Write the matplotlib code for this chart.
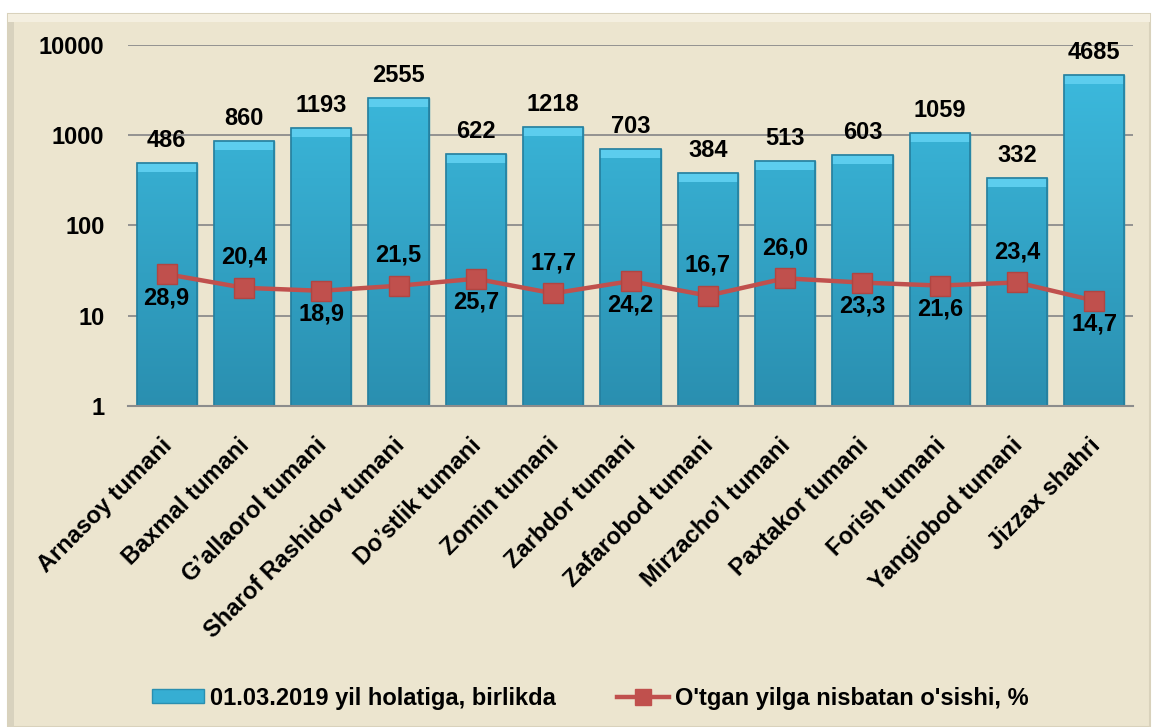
import matplotlib
matplotlib.use("Agg")
import matplotlib.pyplot as plt
import matplotlib.transforms as mtransforms
import numpy as np
from matplotlib.patches import Rectangle
from matplotlib.lines import Line2D

categories = ["Arnasoy tumani", "Baxmal tumani", "G\u2019allaorol tumani", "Sharof Rashidov tumani",
              "Do\u2019stlik tumani", "Zomin tumani", "Zarbdor tumani", "Zafarobod tumani",
              "Mirzacho\u2019l tumani", "Paxtakor tumani", "Forish tumani", "Yangiobod tumani",
              "Jizzax shahri"]
units = [486, 860, 1193, 2555, 622, 1218, 703, 384, 513, 603, 1059, 332, 4685]
growth = [28.9, 20.4, 18.9, 21.5, 25.7, 17.7, 24.2, 16.7, 26.0, 23.3, 21.6, 23.4, 14.7]
growth_pos = ["below", "above", "below", "above", "below", "above", "below", "above",
              "above", "below", "below", "above", "below"]
yticks = [1, 10, 100, 1000, 10000]
legend_bar = "01.03.2019 yil holatiga, birlikda"
legend_line = "O'tgan yilga nisbatan o'sishi, %"

plt.rcParams['font.family'] = ['Liberation Sans', 'DejaVu Sans']
FS = 17

W, H = 1153, 727
fig = plt.figure(figsize=(W/100, H/100), dpi=100)
fig.patch.set_facecolor("white")

# background panel
panel = Rectangle((8/W, 0), (1150-8)/W, 1-14/H, transform=fig.transFigure,
                  facecolor="#ECE5CF", edgecolor="#D9D2BC", linewidth=1.5, zorder=-5)
fig.patches.append(panel)
shadow = Rectangle((8/W, 0), 6/W, 1-14/H, transform=fig.transFigure,
                   facecolor="#D8D2BE", edgecolor="none", zorder=-4)
fig.patches.append(shadow)
topband = Rectangle((8/W, 1-22/H), (1150-8)/W, 8/H, transform=fig.transFigure,
                    facecolor="#F4EFE0", edgecolor="none", zorder=-4)
fig.patches.append(topband)

ax = fig.add_axes([128/W, 1-406/H, (1133-128)/W, (406-45)/H])
ax.set_zorder(2)
ax.set_facecolor("none")
ax.set_yscale("log")
x = np.arange(len(categories))

ax.set_yticks(yticks)
ax.set_yticklabels([str(v) for v in yticks], fontsize=FS, fontweight="bold")
ax.yaxis.set_minor_locator(matplotlib.ticker.NullLocator())
ax.tick_params(axis="y", length=0, pad=17)
ax.tick_params(axis="x", length=0, pad=20)
ax.grid(axis="y", color="#8C8C8C", linewidth=1.3, zorder=0)
ax.set_axisbelow(True)
for s in ["top", "right", "left"]:
    ax.spines[s].set_visible(False)
ax.spines["bottom"].set_color("#8C8C8C")
ax.spines["bottom"].set_linewidth(1.5)

bars = ax.bar(x, units, width=0.78, bottom=1, color="#36AED3", edgecolor="#2A8FB0",
              linewidth=1.0, zorder=2)
grad = np.linspace(0, 1, 256).reshape(-1, 1)
cmap = matplotlib.colors.LinearSegmentedColormap.from_list("g", ["#2A8FB0", "#3DBDE1"])
ax.set_xlim(-0.5, len(categories)-0.5)
ax.set_ylim(1, 10000)
bevel_px = 9
for b in bars:
    im = ax.imshow(grad, extent=[0, 1, 0, 1], transform=ax.transAxes, aspect="auto",
                   cmap=cmap, origin="lower", zorder=2.1, interpolation="bilinear")
    im.set_clip_path(b)
    top = b.get_y() + b.get_height()
    # lighter top bevel strip, sized in pixels via blended transform
    bev = Rectangle((b.get_x(), 0), b.get_width(), bevel_px,
                    transform=mtransforms.blended_transform_factory(ax.transData,
                        mtransforms.Affine2D().translate(0, ax.transData.transform((0, top))[1] - bevel_px)),
                    facecolor="#5CCDEE", edgecolor="none", zorder=2.15)
    ax.add_patch(bev)
    ax.add_patch(Rectangle((b.get_x(), b.get_y()), b.get_width(), b.get_height(),
                           fill=False, edgecolor="#257F9E", linewidth=1.2, zorder=2.2))

for xi, v in zip(x, units):
    ax.annotate(str(v), (xi, v), xytext=(0, 8), textcoords="offset points",
                ha="center", va="bottom", fontsize=FS, fontweight="bold", zorder=5)

ax.plot(x, growth, color="#C0504D", linewidth=3.2, marker="s", markersize=14,
        markerfacecolor="#C0504D", markeredgecolor="#B04542", zorder=4)
for xi, v, p in zip(x, growth, growth_pos):
    off = 22 if p == "above" else -17
    ax.annotate(f"{v:.1f}".replace(".", ","), (xi, v), xytext=(0, off),
                textcoords="offset points", ha="center", va="center",
                fontsize=FS, fontweight="bold", zorder=5)

ax.set_xticks(x)
ax.set_xticklabels(categories, rotation=45, ha="right", rotation_mode="anchor",
                   fontsize=FS, fontweight="bold")
shift = mtransforms.ScaledTranslation(-6/100, 0, fig.dpi_scale_trans)
for lab in ax.get_xticklabels():
    lab.set_transform(lab.get_transform() + shift)

handles = [Rectangle((0, 0), 1, 1, facecolor="#36AED3", edgecolor="#2A8FB0"),
           Line2D([0], [0], color="#C0504D", linewidth=3.2, marker="s", markersize=11)]
leg = fig.legend(handles, [legend_bar, legend_line], loc="center",
                 bbox_to_anchor=(590/W, 1-698/H), ncol=2, frameon=False,
                 prop={"family": ["Liberation Sans"], "weight": "bold", "size": FS},
                 handlelength=2.2, handleheight=0.55, handletextpad=0.25, columnspacing=2.6)

fig.savefig("out.png", dpi=100, facecolor=fig.get_facecolor())
